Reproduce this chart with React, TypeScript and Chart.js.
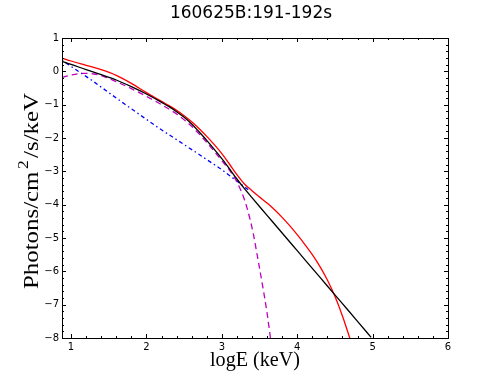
import React, { useEffect, useRef } from "react";
import { Chart, registerables } from "chart.js";

Chart.register(...registerables);

const titleText = "160625B:191-192s";
const xTitle = "logE (keV)";
const yTitleParts = ["Photons/cm", "2", "/s/keV"];

const xTicks = [1, 2, 3, 4, 5, 6];
const yTicks = [1, 0, -1, -2, -3, -4, -5, -6, -7, -8];

const redX = [0.88, 1.0, 1.2, 1.4, 1.6, 1.8, 2.0, 2.1, 2.2, 2.3, 2.4, 2.5, 2.6, 2.7, 2.8, 2.9, 3.0, 3.1, 3.2, 3.3, 3.4, 3.5, 3.6, 3.7, 3.8, 3.9, 4.0, 4.1, 4.2, 4.3, 4.4, 4.5, 4.6, 4.7];
const redY = [0.40, 0.31, 0.18, 0.05, -0.12, -0.36, -0.64, -0.77, -0.90, -1.03, -1.17, -1.33, -1.51, -1.72, -1.95, -2.20, -2.47, -2.78, -3.10, -3.38, -3.58, -3.77, -3.95, -4.15, -4.38, -4.63, -4.90, -5.19, -5.50, -5.85, -6.26, -6.75, -7.34, -8.02];

const blackX = [0.88, 1.0, 1.2, 1.4, 1.6, 1.8, 2.0, 2.1, 2.2, 2.3, 2.4, 2.5, 2.6, 2.7, 2.8, 2.9, 3.0, 3.1, 3.2, 3.3, 3.4, 3.6, 3.8, 4.0, 4.2, 4.4, 4.6, 4.8, 4.98];
const blackY = [0.30, 0.21, 0.05, -0.10, -0.26, -0.46, -0.68, -0.80, -0.93, -1.06, -1.21, -1.38, -1.58, -1.82, -2.07, -2.34, -2.62, -2.92, -3.23, -3.52, -3.79, -4.32, -4.85, -5.38, -5.91, -6.44, -6.97, -7.50, -7.98];

const magentaX = [0.88, 1.0, 1.1, 1.2, 1.3, 1.4, 1.6, 1.8, 2.0, 2.2, 2.4, 2.6, 2.8, 3.0, 3.1, 3.2, 3.3, 3.37, 3.42, 3.48, 3.55, 3.6, 3.645];
const magentaY = [-0.18, -0.11, -0.07, -0.06, -0.08, -0.13, -0.31, -0.52, -0.75, -1.00, -1.28, -1.65, -2.13, -2.68, -2.96, -3.32, -3.85, -4.40, -4.90, -5.65, -6.55, -7.25, -8.0];

const blueX = [0.88, 1.27, 1.71, 2.15, 2.67, 3.0, 3.35];
const blueY = [0.33, -0.26, -0.98, -1.68, -2.45, -2.95, -3.55];

const toPts = (xs: number[], ys: number[]) => xs.map((x, i) => ({ x, y: ys[i] }));
const fmt = (v: number) => (v < 0 ? "\u2212" + Math.abs(v) : String(v));

const framePlugin = {
  id: "frame",
  afterDraw(chart: any) {
    const { ctx, chartArea: a, scales } = chart;
    const xs = scales.x;
    const ys = scales.y;
    ctx.save();
    ctx.strokeStyle = "#000";
    ctx.lineWidth = 1;
    ctx.strokeRect(Math.round(a.left) + 0.5, Math.round(a.top) + 0.5, Math.round(a.right - a.left), Math.round(a.bottom - a.top));
    ctx.beginPath();
    for (let v = 0.2; v <= 6.001; v += 0.2) {
      const r = Math.round(v * 10) / 10;
      if (r < xs.min || r > xs.max) continue;
      const major = Math.abs(r - Math.round(r)) < 1e-6;
      const L = major ? 4 : 2;
      const px = Math.round(xs.getPixelForValue(r)) + 0.5;
      ctx.moveTo(px, a.bottom);
      ctx.lineTo(px, a.bottom - L);
      ctx.moveTo(px, a.top);
      ctx.lineTo(px, a.top + L);
    }
    for (let v = -8; v <= 1.001; v += 0.2) {
      const r = Math.round(v * 10) / 10;
      const major = Math.abs(r - Math.round(r)) < 1e-6;
      const L = major ? 4 : 2;
      const py = Math.round(ys.getPixelForValue(r)) + 0.5;
      ctx.moveTo(a.left, py);
      ctx.lineTo(a.left + L, py);
      ctx.moveTo(a.right, py);
      ctx.lineTo(a.right - L, py);
    }
    ctx.stroke();

    ctx.fillStyle = "#000";
    ctx.textAlign = "center";
    ctx.textBaseline = "middle";
    ctx.font = "17px 'DejaVu Sans'";
    ctx.fillText(titleText, 251, 14);

    // x-axis title
    ctx.font = "20px 'Liberation Serif'";
    const xw = ctx.measureText(xTitle).width;
    ctx.save();
    ctx.translate((a.left + a.right) / 2, 361);
    ctx.scale(90 / xw, 1);
    ctx.fillText(xTitle, 0, 0);
    ctx.restore();

    // y-axis title with superscript
    const big = "20px 'Liberation Serif'";
    const small = "14px 'Liberation Serif'";
    ctx.font = big;
    const w0 = ctx.measureText(yTitleParts[0]).width;
    const w2 = ctx.measureText(yTitleParts[2]).width;
    ctx.font = small;
    const w1 = ctx.measureText(yTitleParts[1]).width;
    const gap = 2;
    const total = w0 + gap + w1 + gap + w2;
    const target = 196;
    ctx.save();
    ctx.translate(32, 191);
    ctx.rotate(-Math.PI / 2);
    ctx.scale(target / total, 1);
    ctx.textAlign = "left";
    ctx.textBaseline = "alphabetic";
    let cx = -total / 2;
    ctx.font = big;
    ctx.fillText(yTitleParts[0], cx, 6);
    cx += w0 + gap;
    ctx.font = small;
    ctx.fillText(yTitleParts[1], cx, -4);
    cx += w1 + gap;
    ctx.font = big;
    ctx.fillText(yTitleParts[2], cx, 6);
    ctx.restore();
    ctx.restore();
  },
};

export default function App() {
  const ref = useRef<HTMLCanvasElement | null>(null);
  useEffect(() => {
    document.body.style.margin = "0";
    const canvas = ref.current!;
    const line = (xs: number[], ys: number[], color: string, dash: number[], order: number, smooth: boolean) => ({
      data: toPts(xs, ys),
      borderColor: color,
      backgroundColor: color,
      borderWidth: 1.3,
      borderDash: dash,
      pointRadius: 0,
      showLine: true,
      fill: false,
      order,
      cubicInterpolationMode: smooth ? "monotone" : "default",
      tension: 0,
    });
    const chart = new Chart(canvas, {
      type: "scatter",
      data: {
        datasets: [
          line(blueX, blueY, "#0000ff", [1.5, 3, 4, 3], 4, false),
          line(magentaX, magentaY, "#bf00bf", [6, 4], 3, true),
          line(redX, redY, "#ff0000", [], 2, true),
          line(blackX, blackY, "#000000", [], 1, true),
        ] as any,
      },
      options: {
        animation: false,
        responsive: false,
        events: [],
        layout: { padding: { left: 0, right: 50, top: 38, bottom: 0 } },
        plugins: { legend: { display: false }, tooltip: { enabled: false }, title: { display: false } },
        scales: {
          x: {
            type: "linear",
            min: 0.88,
            max: 6,
            afterBuildTicks: (s: any) => {
              s.ticks = xTicks.map((v) => ({ value: v }));
            },
            afterFit: (s: any) => {
              s.height = 38;
            },
            grid: { display: false, drawTicks: false, tickLength: 0 },
            border: { display: false },
            ticks: {
              color: "#000",
              font: { family: "'DejaVu Sans'", size: 10 },
              padding: 3,
              maxRotation: 0,
              callback: (v: any) => fmt(Number(v)),
            },
          },
          y: {
            type: "linear",
            min: -8,
            max: 1,
            afterBuildTicks: (s: any) => {
              s.ticks = yTicks.map((v) => ({ value: v }));
            },
            afterFit: (s: any) => {
              s.width = 62;
            },
            grid: { display: false, drawTicks: false, tickLength: 0 },
            border: { display: false },
            ticks: {
              color: "#000",
              font: { family: "'DejaVu Sans'", size: 10 },
              padding: 3,
              callback: (v: any) => fmt(Number(v)),
            },
          },
        },
      },
      plugins: [framePlugin],
    });
    return () => chart.destroy();
  }, []);
  return (
    <div style={{ position: "fixed", left: 0, top: 0, width: 498, height: 376, background: "#fff" }}>
      <canvas ref={ref} width={498} height={376} />
    </div>
  );
}
